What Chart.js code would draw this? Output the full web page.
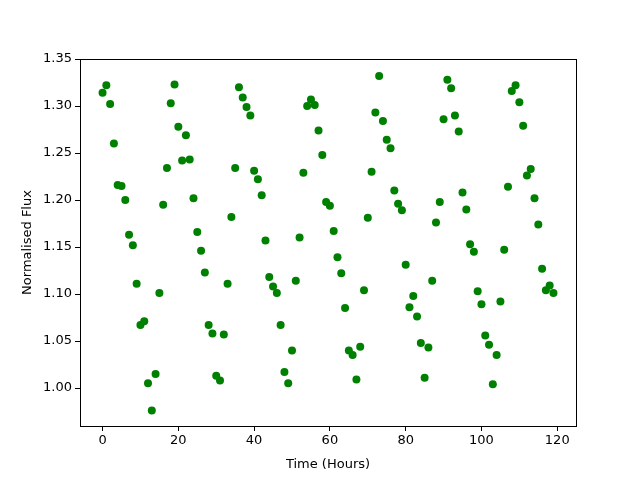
<!DOCTYPE html>
<html>
<head>
<meta charset="utf-8">
<script src="https://cdn.jsdelivr.net/npm/chart.js@4"></script>
<style>
  body { margin: 0; background: #fff; }
  #wrap { width: 640px; height: 480px; }
</style>
</head>
<body>
<div id="wrap"><canvas id="fluxChart" width="640" height="480"></canvas></div>
<script>
// time in hours, one sample per hour
const hours = [];
for (let h = 0; h < 120; h++) hours.push(h);

const flux = [
  1.314, 1.322, 1.302, 1.260, 1.216, 1.215, 1.200, 1.163, 1.152, 1.111,
  1.067, 1.071, 1.005, 0.976, 1.015, 1.101, 1.195, 1.234, 1.303, 1.323,
  1.278, 1.242, 1.269, 1.243, 1.202, 1.166, 1.146, 1.123, 1.067, 1.058,
  1.013, 1.008, 1.057, 1.111, 1.182, 1.234, 1.320, 1.309, 1.299, 1.290,
  1.231, 1.222, 1.205, 1.157, 1.118, 1.108, 1.101, 1.067, 1.017, 1.005,
  1.040, 1.114, 1.160, 1.229, 1.300, 1.307, 1.301, 1.274, 1.248, 1.198,
  1.194, 1.167, 1.139, 1.122, 1.085, 1.040, 1.035, 1.009, 1.044, 1.104,
  1.181, 1.230, 1.293, 1.332, 1.284, 1.264, 1.255, 1.210, 1.196, 1.189,
  1.131, 1.086, 1.098, 1.076, 1.048, 1.011, 1.043, 1.114, 1.176, 1.198,
  1.286, 1.328, 1.319, 1.290, 1.273, 1.208, 1.190, 1.153, 1.145, 1.103,
  1.089, 1.056, 1.046, 1.004, 1.035, 1.092, 1.147, 1.214, 1.316, 1.322,
  1.304, 1.279, 1.226, 1.233, 1.202, 1.174, 1.127, 1.104, 1.109, 1.101
];

const xTicks = [0, 20, 40, 60, 80, 100, 120];
const yTicks = [1.00, 1.05, 1.10, 1.15, 1.20, 1.25, 1.30, 1.35];

const points = hours.map((h, i) => ({ x: h, y: flux[i] }));

// draw the closed frame around the plot area
const frame = {
  id: 'frame',
  afterDraw(chart) {
    const a = chart.chartArea;
    const ctx = chart.ctx;
    ctx.save();
    ctx.strokeStyle = '#000';
    ctx.lineWidth = 1;
    ctx.strokeRect(a.left + 0.5, a.top + 0.5, a.right - a.left, a.bottom - a.top);
    ctx.restore();
  }
};

Chart.defaults.font.family = 'DejaVu Sans';
Chart.defaults.font.size = 13;
Chart.defaults.color = '#000';

new Chart(document.getElementById('fluxChart').getContext('2d'), {
  type: 'scatter',
  data: {
    datasets: [{
      data: points,
      backgroundColor: '#008000',
      borderColor: '#008000',
      pointRadius: 4,
      pointHoverRadius: 4,
      borderWidth: 0
    }]
  },
  options: {
    responsive: false,
    animation: false,
    layout: { padding: { left: 16, top: 59, right: 64, bottom: 4 } },
    plugins: { legend: { display: false }, tooltip: { enabled: false } },
    scales: {
      x: {
        type: 'linear',
        min: -5.95,
        max: 124.95,
        afterBuildTicks: scale => { scale.ticks = xTicks.map(v => ({ value: v })); },
        afterFit: scale => { scale.height = 50; },
        ticks: { padding: 2, callback: v => String(v) },
        grid: { drawOnChartArea: false, drawTicks: true, tickLength: 5, color: '#000' },
        border: { display: false },
        title: { display: true, text: 'Time (Hours)', padding: { top: 2 } }
      },
      y: {
        type: 'linear',
        min: 0.9596,
        max: 1.35,
        afterBuildTicks: scale => { scale.ticks = yTicks.map(v => ({ value: v })); },
        afterFit: scale => { scale.width = 64; },
        ticks: { padding: 3, callback: v => v.toFixed(2) },
        grid: { drawOnChartArea: false, drawTicks: true, tickLength: 5, color: '#000' },
        border: { display: false },
        title: { display: true, text: 'Normalised Flux', padding: { bottom: 2 } }
      }
    }
  },
  plugins: [frame]
});
</script>
</body>
</html>
